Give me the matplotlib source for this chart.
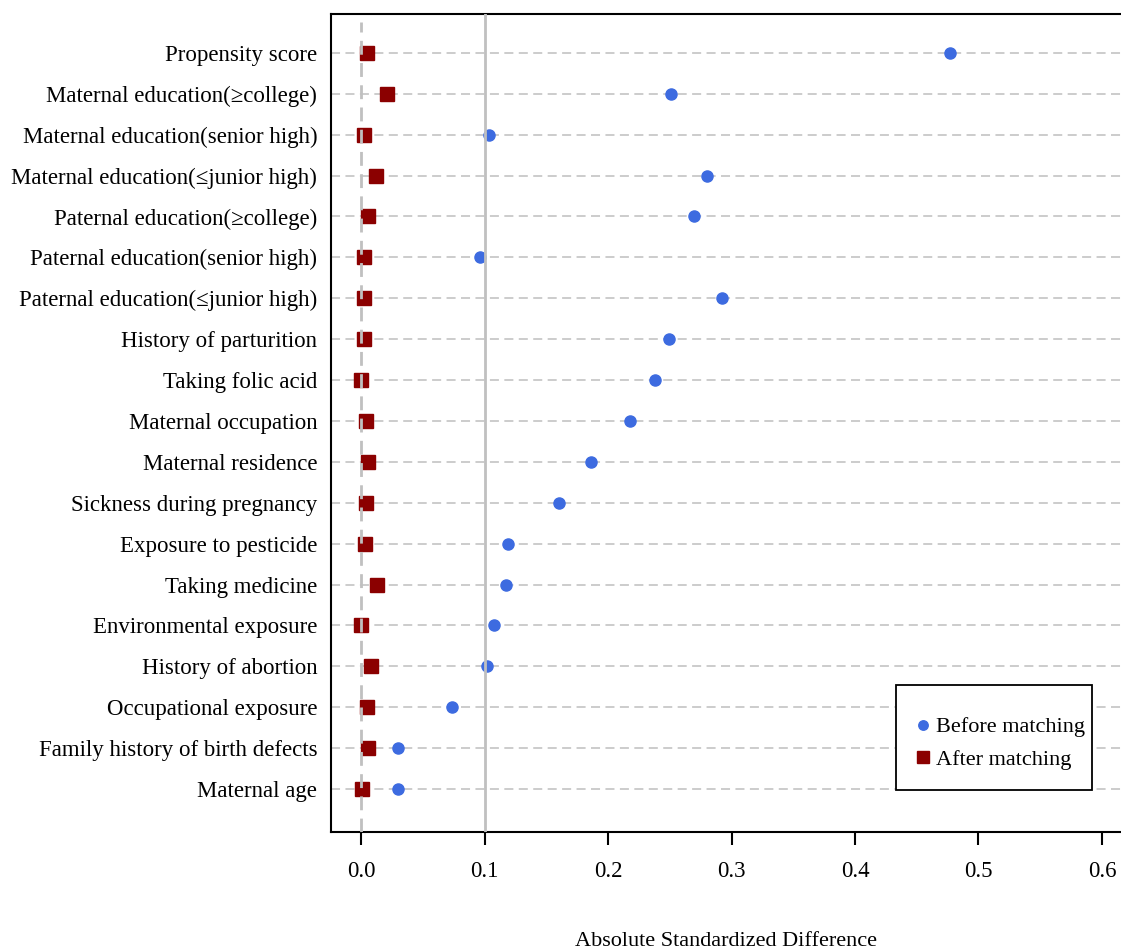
import matplotlib.pyplot as plt
from matplotlib.patches import Rectangle
import numpy as np

plt.rcParams['font.family'] = ['Liberation Serif', 'DejaVu Serif']

covariates = [
    "Propensity score",
    "Maternal education(\u2265college)",
    "Maternal education(senior high)",
    "Maternal education(\u2264junior high)",
    "Paternal education(\u2265college)",
    "Paternal education(senior high)",
    "Paternal education(\u2264junior high)",
    "History of parturition",
    "Taking folic acid",
    "Maternal occupation",
    "Maternal residence",
    "Sickness during pregnancy",
    "Exposure to pesticide",
    "Taking medicine",
    "Environmental exposure",
    "History of abortion",
    "Occupational exposure",
    "Family history of birth defects",
    "Maternal age",
]
before = [0.477, 0.251, 0.104, 0.280, 0.270, 0.096, 0.292, 0.249, 0.238, 0.218,
          0.186, 0.160, 0.119, 0.117, 0.108, 0.102, 0.074, 0.030, 0.030]
after = [0.005, 0.021, 0.002, 0.012, 0.006, 0.002, 0.002, 0.002, 0.000, 0.004,
         0.006, 0.004, 0.003, 0.013, 0.000, 0.008, 0.005, 0.006, 0.001]
xticks = [0.0, 0.1, 0.2, 0.3, 0.4, 0.5, 0.6]

fig = plt.figure(figsize=(11.21, 9.49), dpi=100)
ax = fig.add_axes([0.2953, 0.1233, 0.7047, 0.8619])

n = len(covariates)
ypos = np.arange(n)[::-1]

for y in ypos:
    ax.axhline(y, color='#c8c8c8', lw=1.3, ls=(0, (5, 3)), zorder=1)

ax.plot(before, ypos, 'o', color='#3d6be0', ms=8, ls='none', zorder=2, label='Before matching')
ax.plot(after, ypos, 's', color='#8b0000', ms=9.5, ls='none', zorder=2, label='After matching')

ax.axvline(0.0, ymax=0.99, color='#c0c0c0', lw=2.0, ls=(0, (5, 3)), zorder=3)
ax.axvline(0.1, color='#c0c0c0', lw=2.0, zorder=3)

ax.set_xlim(-0.0243, 0.6154)
ax.set_ylim(-1.05, 18.95)
ax.set_yticks(ypos)
ax.set_yticklabels(covariates, fontsize=16.5)
ax.tick_params(axis='y', length=0, pad=10)
ax.set_xticks(xticks)
ax.set_xticklabels(['%.1f' % t for t in xticks], fontsize=16.5)
ax.tick_params(axis='x', length=9, width=1.5, pad=12)
ax.set_xlabel('Absolute Standardized Difference', fontsize=16, labelpad=36)

for s in ['left', 'bottom', 'top']:
    ax.spines[s].set_linewidth(1.5)
ax.spines['right'].set_visible(False)

# legend box drawn separately so its padding matches the original
box = Rectangle((0.715, 0.051), 0.248, 0.129, transform=ax.transAxes,
                facecolor='white', edgecolor='black', lw=1.3, zorder=4)
ax.add_patch(box)
leg = ax.legend(loc='lower right', bbox_to_anchor=(0.954, 0.0755), fontsize=16,
                frameon=False, handletextpad=0.15, handlelength=0.8,
                borderpad=0, labelspacing=0.55, markerscale=0.85, borderaxespad=0)
leg.set_zorder(5)

fig.savefig('out.png', dpi=100)
